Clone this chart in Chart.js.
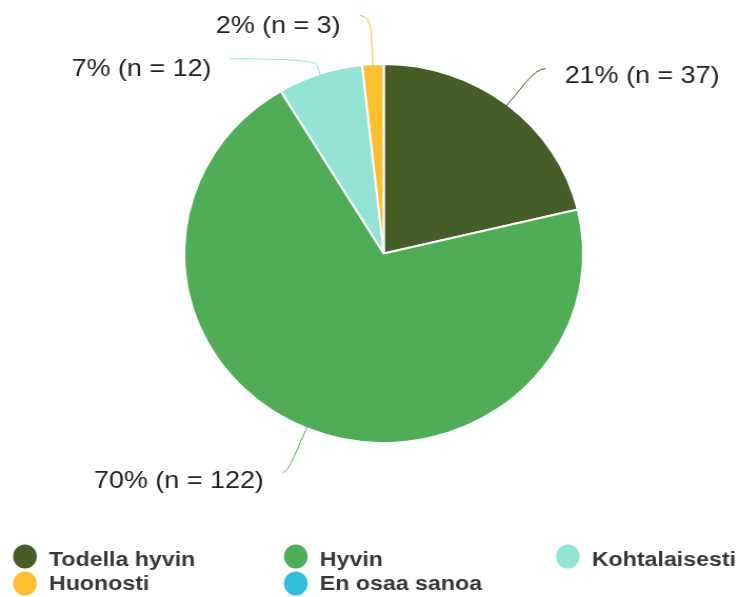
<!DOCTYPE html>
<html>
<head>
<meta charset="utf-8">
<script src="https://cdn.jsdelivr.net/npm/chart.js@4"></script>
<style>
  html, body { margin: 0; padding: 0; background: #fff; overflow: hidden; }
  /* the reference is slightly stretched horizontally */
  #wrap { width: 702px; height: 597px; transform: scaleX(1.0527); transform-origin: 0 0; }
  canvas { display: block; }
</style>
</head>
<body>
<div id="wrap"><canvas id="pie" width="702" height="597"></canvas></div>
<script>
const categories = ['Todella hyvin', 'Hyvin', 'Kohtalaisesti', 'Huonosti', 'En osaa sanoa'];
const counts = [37, 122, 12, 3, 0];
const colors = ['#455d27', '#4fae55', '#93e4d6', '#fcc02e', '#2fbfd8'];

// leader line placement per slice (radial extension, tail, side, text baseline offset)
const labelStyle = [
  { ext: 46, tail: 8, side: 1, dy: 14 },
  { ext: 48, tail: 4, side: -1, dy: 15 },
  { ext: 16, tail: 80, side: -1, dy: 17 },
  { ext: 49, tail: 10, side: -1, dy: 18 }
];

const total = counts.reduce((a, b) => a + b, 0);

function wideText(ctx, txt, x, y, sx) {
  ctx.save();
  ctx.translate(x, y);
  ctx.scale(sx, 1);
  ctx.fillText(txt, 0, 0);
  ctx.restore();
}

const sliceLabels = {
  id: 'sliceLabels',
  afterDatasetsDraw(chart) {
    const ctx = chart.ctx;
    const arcs = chart.getDatasetMeta(0).data;
    ctx.save();
    ctx.font = '24px "Liberation Sans", Arial, sans-serif';
    ctx.fillStyle = '#222';
    ctx.textBaseline = 'alphabetic';
    arcs.forEach((arc, i) => {
      if (!counts[i]) return;
      const st = labelStyle[i];
      const a = (arc.startAngle + arc.endAngle) / 2;
      const r = arc.outerRadius;
      const x0 = arc.x + Math.cos(a) * (r - 2);
      const y0 = arc.y + Math.sin(a) * (r - 2);
      const x1 = arc.x + Math.cos(a) * (r + st.ext);
      const y1 = arc.y + Math.sin(a) * (r + st.ext);
      const x2 = x1 + st.side * st.tail;
      ctx.strokeStyle = colors[i];
      ctx.lineWidth = 1;
      ctx.beginPath();
      ctx.moveTo(x0, y0);
      const mx = x0 + (x1 - x0) * 0.65, my = y0 + (y1 - y0) * 0.65;
      ctx.lineTo(mx, my);
      ctx.quadraticCurveTo(x1, y1, x2, y1);
      ctx.stroke();
      const pct = Math.round(counts[i] / total * 100);
      const txt = pct + '% (n = ' + counts[i] + ')';
      ctx.textAlign = st.side > 0 ? 'left' : 'right';
      wideText(ctx, txt, x2 + st.side * 18, y1 + st.dy, 1.065);
    });
    ctx.restore();
  }
};

const gridLegend = {
  id: 'gridLegend',
  afterDraw(chart) {
    const ctx = chart.ctx;
    const colX = [23.7, 281, 539.4];
    const rowY = [556.5, 583.5];
    const baseY = [566, 590];
    ctx.save();
    ctx.font = 'bold 20px "Liberation Sans", Arial, sans-serif';
    ctx.textBaseline = 'alphabetic';
    ctx.textAlign = 'left';
    categories.forEach((name, i) => {
      const row = Math.floor(i / 3);
      const cx = colX[i % 3], cy = rowY[row];
      ctx.fillStyle = colors[i];
      ctx.beginPath();
      ctx.ellipse(cx, cy, 11.2, 12, 0, 0, Math.PI * 2);
      ctx.fill();
      ctx.fillStyle = '#383838';
      wideText(ctx, name, cx + 22.8, baseY[row], 1.1);
    });
    ctx.restore();
  }
};

new Chart(document.getElementById('pie'), {
  type: 'pie',
  data: {
    labels: categories,
    datasets: [{
      data: counts,
      backgroundColor: colors,
      borderColor: '#fff',
      borderWidth: 2
    }]
  },
  options: {
    responsive: false,
    animation: false,
    layout: { padding: { top: 63, bottom: 153, left: 174, right: 147 } },
    plugins: { legend: { display: false }, tooltip: { enabled: false } }
  },
  plugins: [sliceLabels, gridLegend]
});
</script>
</body>
</html>
